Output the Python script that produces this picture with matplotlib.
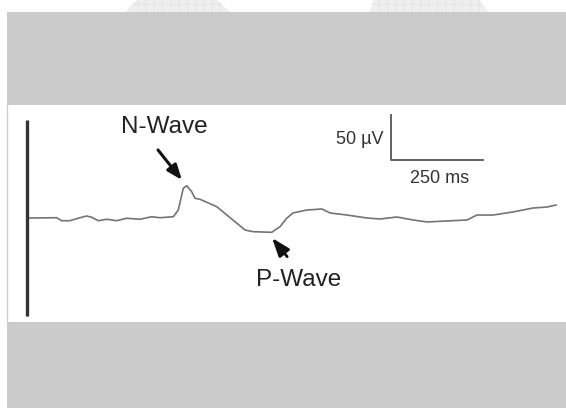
import matplotlib
matplotlib.use("Agg")
import matplotlib.pyplot as plt
from matplotlib.patches import Rectangle, Polygon

plt.rcParams['font.family'] = ['Liberation Sans', 'DejaVu Sans']
plt.rcParams['hatch.linewidth'] = 0.6

# ---- data: evoked potential trace (time in ms, amplitude in µV) ----
time_ms = [0, 80.7, 94.3, 116.8, 138.6, 162.2, 175.8, 193.8, 216.6, 243.8,
           270.9, 307.1, 338.9, 361.4, 397.6, 411.1, 424.7, 434.0, 447.6,
           456.5, 470.1, 515.5, 592.4, 614.1, 665.0, 687.5, 705.7, 722.8,
           760.9, 801.6, 823.4, 869.6, 923.9, 959.2, 1005.4, 1048.9, 1087.0,
           1141.3, 1195.7, 1222.8, 1266.3, 1320.7, 1375.0, 1413.0, 1437.5]
amp_uv = [0, 0.3, -3.0, -3.0, -0.3, 2.2, 0.8, -3.0, -1.4, -3.0,
          -0.3, -1.4, 1.4, 0.3, 1.4, 8.9, 33.0, 35.9, 29.2,
          21.9, 20.8, 12.6, -13.3, -15.2, -15.9, -9.7, -0.3, 5.6,
          8.9, 10.0, 5.6, 3.3, 0.0, -1.1, 1.1, -2.2, -4.4,
          -3.3, -2.2, 3.3, 3.3, 6.7, 11.1, 12.2, 14.4]

stim_bar_uv = [-109, 109]           # vertical marker at t = 0
scale_origin = [990, 64.4]          # ms, µV
scale_len_ms = 250
scale_len_uv = 50

labels = ["N-Wave", "P-Wave"]
label_pos = [[372, 101], [739, -69]]
arrow_tail = [[356, 75.6], [707, -43]]
arrow_tip = [[421, 42.2], [666, -22.2]]

W, H = 566, 408
fig = plt.figure(figsize=(W / 100, H / 100), dpi=100)

# background layer in pixel coordinates
bg = fig.add_axes([0, 0, 1, 1])
bg.set_xlim(0, W)
bg.set_ylim(H, 0)
bg.axis('off')
bg.add_patch(Polygon([[125, 12], [137, 0], [217, 0], [230, 12]],
                     facecolor='#efefef', edgecolor='#e2e2e2', lw=0, hatch='++'))
bg.add_patch(Polygon([[370, 12], [373, 0], [480, 0], [488, 12]],
                     facecolor='#efefef', edgecolor='#e2e2e2', lw=0, hatch='++'))
bg.add_patch(Rectangle((7, 12), W - 7, 93, facecolor='#cbcbcb', edgecolor='none'))
bg.add_patch(Rectangle((7, 322), W - 7, H - 322, facecolor='#cbcbcb', edgecolor='none'))
bg.plot([6.5, 6.5], [105, 322], color='#cfcfcf', lw=1)

# main axes in data units
x0, x1 = 7, 566
y0, y1 = 105, 322
ax = fig.add_axes([x0 / W, 1 - y1 / H, (x1 - x0) / W, (y1 - y0) / H])
ax.patch.set_alpha(0)
ax.set_xlim((x0 - 27) * 250 / 92, (x1 - 27) * 250 / 92)
ax.set_ylim((218 - y1) * 50 / 45, (218 - y0) * 50 / 45)
ax.axis('off')

ax.plot(time_ms, amp_uv, color='#747474', lw=1.2, solid_joinstyle='round')
ax.plot([0, 0], stim_bar_uv, color='#333333', lw=2.4, solid_capstyle='butt')

sx, sy = scale_origin
ax.plot([sx, sx, sx + scale_len_ms], [sy + scale_len_uv, sy, sy],
        color='#555555', lw=1.3)
ax.text(sx - 20, sy + 22.3, "50 µV", ha='right', va='center', fontsize=13, color='#333333')
ax.text(sx + 130, sy - 20, "250 ms", ha='center', va='center', fontsize=13, color='#333333')

for lab, (lx, ly) in zip(labels, label_pos):
    ax.text(lx, ly, lab, ha='center', va='center', fontsize=17.5, color='#222222')

ax.annotate("", xy=arrow_tip[0], xytext=arrow_tail[0],
            arrowprops=dict(arrowstyle="-|>,head_length=0.9,head_width=0.35",
                            color='#111111', lw=2.2, shrinkA=0, shrinkB=0))
ax.annotate("", xy=arrow_tip[1], xytext=arrow_tail[1],
            arrowprops=dict(arrowstyle="-|>,head_length=1.1,head_width=0.4",
                            color='#111111', lw=2.0, shrinkA=0, shrinkB=0))

fig.savefig("out.png", dpi=100, facecolor='white')
